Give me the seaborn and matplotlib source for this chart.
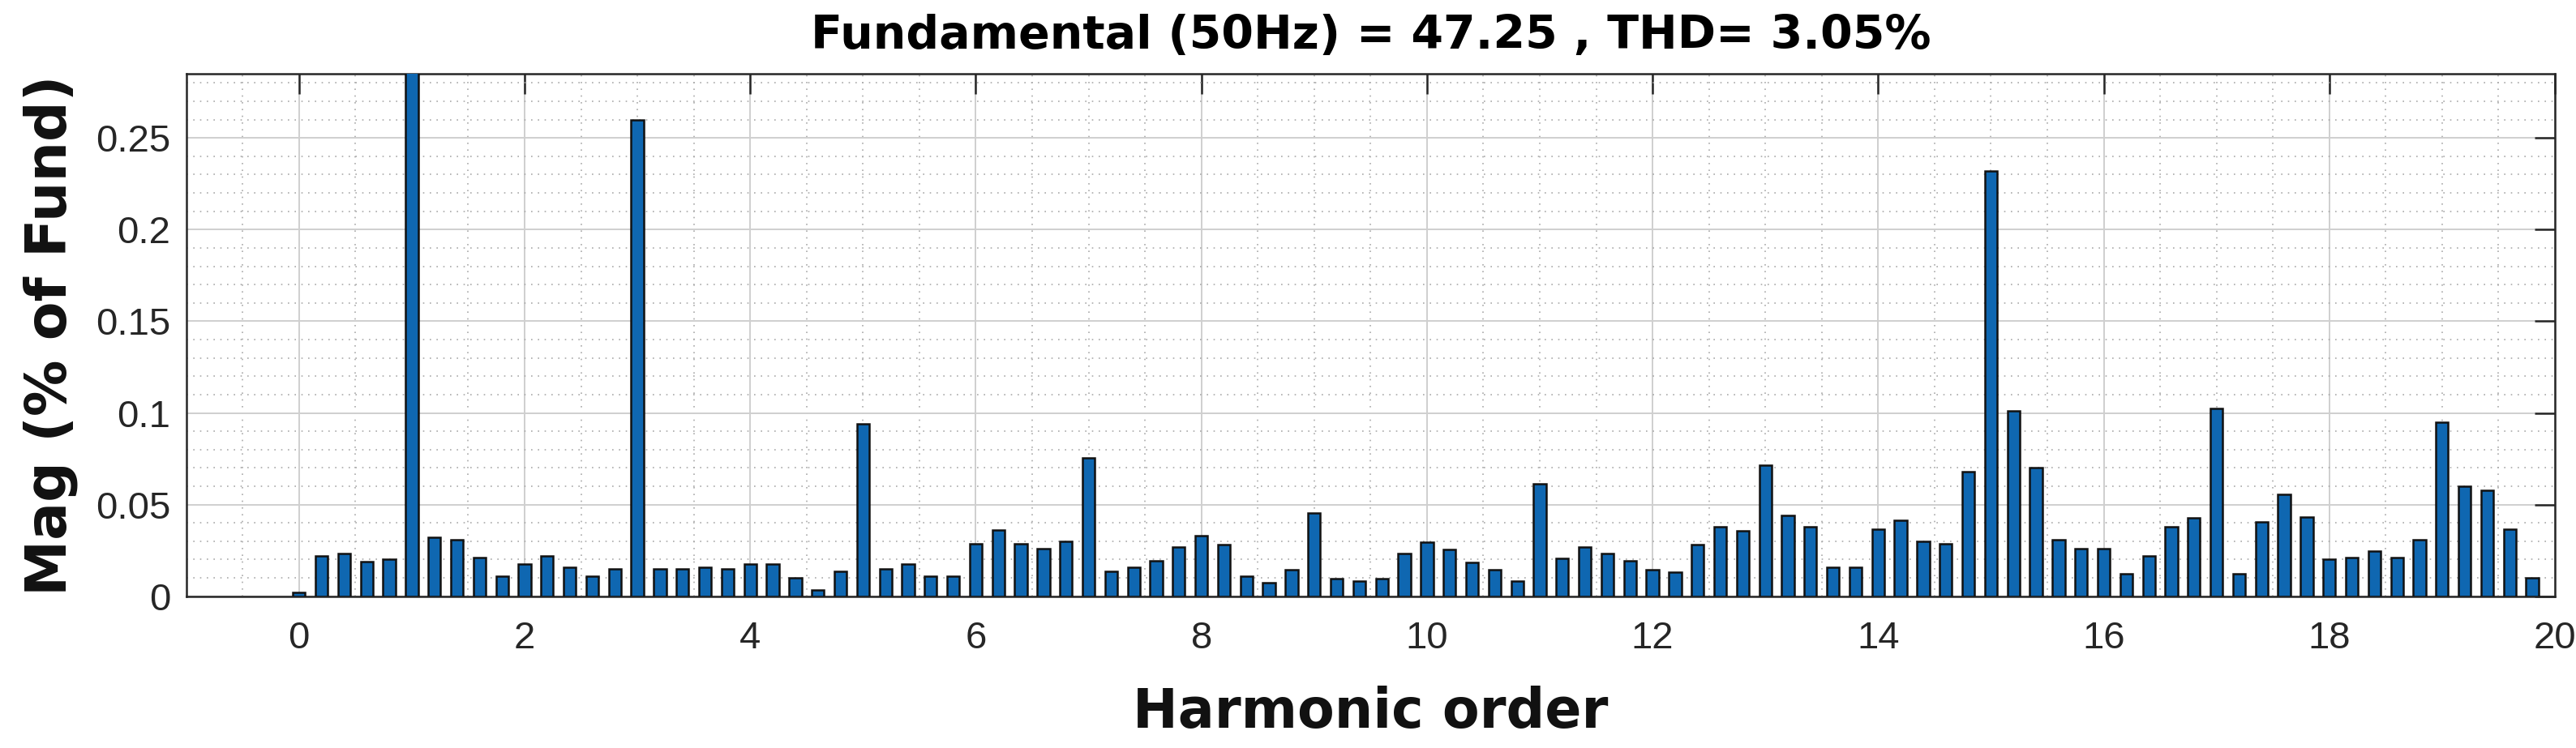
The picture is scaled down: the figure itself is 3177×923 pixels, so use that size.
import numpy as np
import pandas as pd
import matplotlib
matplotlib.use("Agg")
import matplotlib.pyplot as plt
from matplotlib.ticker import MultipleLocator, FixedLocator, FuncFormatter
import seaborn as sns

# harmonic order axis: FFT bins every 0.2 (10 Hz on a 50 Hz base)
harmonic_order = np.round(np.arange(0, 20, 0.2), 1)

# magnitude in % of fundamental (bin 1.0 = fundamental, clipped)
mag_0_to_5 = [0.002, 0.022, 0.0235, 0.019, 0.020,
              100.0, 0.032, 0.031, 0.021, 0.011,
              0.0175, 0.022, 0.016, 0.011, 0.015,
              0.260, 0.015, 0.015, 0.016, 0.015,
              0.0175, 0.0175, 0.010, 0.0035, 0.0135]
mag_5_to_10 = [0.094, 0.015, 0.0175, 0.011, 0.011,
               0.0287, 0.036, 0.0287, 0.026, 0.030,
               0.0755, 0.0135, 0.016, 0.0195, 0.027,
               0.033, 0.028, 0.011, 0.0072, 0.0146,
               0.0455, 0.0095, 0.0083, 0.0095, 0.0232]
mag_10_to_15 = [0.0294, 0.0257, 0.0183, 0.0146, 0.0083,
                0.0615, 0.0208, 0.0269, 0.0232, 0.0194,
                0.0146, 0.0133, 0.0282, 0.0378, 0.0358,
                0.0715, 0.044, 0.0378, 0.016, 0.016,
                0.0365, 0.0415, 0.0298, 0.0287, 0.0678]
mag_15_to_20 = [0.232, 0.1012, 0.070, 0.031, 0.026,
                0.026, 0.0123, 0.022, 0.0378, 0.0428,
                0.1025, 0.0123, 0.0405, 0.0555, 0.043,
                0.020, 0.021, 0.0248, 0.021, 0.031,
                0.095, 0.060, 0.058, 0.0365, 0.010]

fundamental_hz = 50
fundamental_mag = 47.25
thd_pct = 3.05

yticks = [0, 0.05, 0.1, 0.15, 0.2, 0.25]
xticks = [0, 2, 4, 6, 8, 10, 12, 14, 16, 18, 20]

df = pd.DataFrame({
    "order": harmonic_order,
    "mag": mag_0_to_5 + mag_5_to_10 + mag_10_to_15 + mag_15_to_20,
})

sns.set_style("white")
plt.rcParams["font.family"] = ["Liberation Sans", "DejaVu Sans"]

fig = plt.figure(figsize=(31.77, 9.23), dpi=100)
ax = fig.add_axes([0.0723, 0.2029, 0.9195, 0.6985])

sns.barplot(data=df, x="order", y="mag", native_scale=True, width=0.55,
            color="#0f67b1", saturation=1, edgecolor="#111111", linewidth=1.8,
            ax=ax, zorder=3)

ax.set_xlim(-1, 20)
ax.set_ylim(0, 0.285)
ax.xaxis.set_major_locator(FixedLocator(xticks))
ax.yaxis.set_major_locator(FixedLocator(yticks))
ax.xaxis.set_minor_locator(MultipleLocator(0.5))
ax.yaxis.set_minor_locator(MultipleLocator(0.01))
ax.yaxis.set_major_formatter(FuncFormatter(lambda v, p: f"{v:g}"))
ax.xaxis.set_major_formatter(FuncFormatter(lambda v, p: f"{v:g}"))

ax.grid(True, which="major", color="#cfcfcf", linewidth=1.4, linestyle="-", zorder=0)
ax.grid(True, which="minor", color="#aaaaaa", linewidth=1.2, linestyle=(0, (1, 4)), zorder=0)
ax.set_axisbelow(True)

ax.tick_params(axis="both", which="major", direction="in", length=18, width=1.8,
               color="#262626", labelsize=34, labelcolor="#262626",
               top=True, right=True)
ax.tick_params(axis="x", which="major", pad=22)
ax.tick_params(axis="y", which="major", pad=14)
ax.tick_params(axis="both", which="minor", length=0)

for side in ["top", "bottom", "left", "right"]:
    ax.spines[side].set_visible(True)
    ax.spines[side].set_color("#262626")
    ax.spines[side].set_linewidth(1.8)

ax.set_xlabel("Harmonic order", fontsize=48, fontweight="heavy",
              family="DejaVu Sans", color="#111111", labelpad=26)
ax.set_ylabel("Mag (% of Fund)", fontsize=50, fontweight="heavy",
              family="DejaVu Sans", color="#111111", labelpad=16)
ax.set_title(f"Fundamental ({fundamental_hz}Hz) = {fundamental_mag} , THD= {thd_pct}%",
             fontsize=41, fontweight="heavy", family="DejaVu Sans", color="#000000", pad=22)

fig.savefig("out.png", dpi=100, facecolor="white")
